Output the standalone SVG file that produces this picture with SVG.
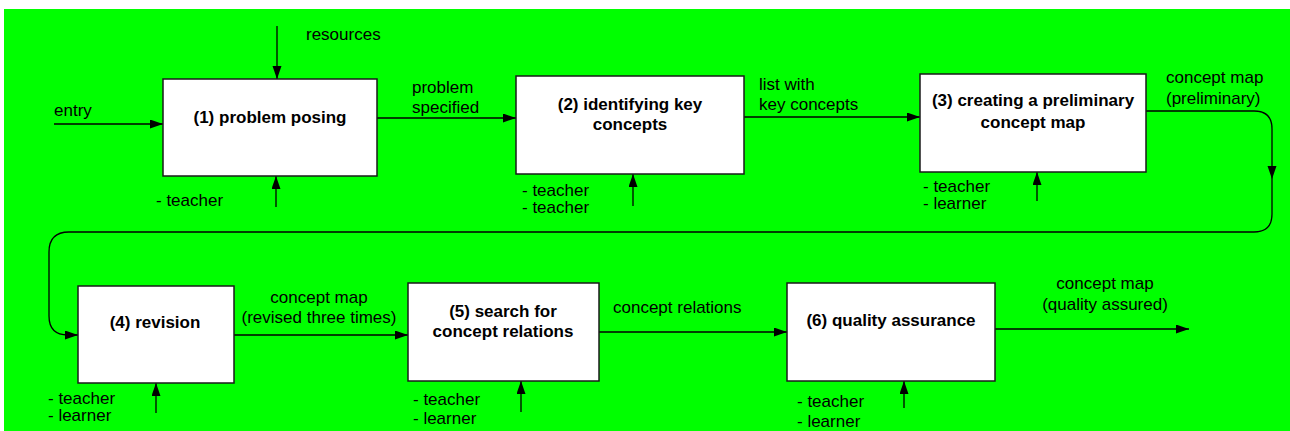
<svg xmlns="http://www.w3.org/2000/svg" width="1290" height="431" viewBox="0 0 1290 431">
<style>
.box{fill:#fff;stroke:#1a1a1a;stroke-width:1.5}
.ln{fill:none;stroke:#000;stroke-width:1.3}
.t{font-family:"Liberation Sans",Arial,sans-serif;font-size:17px;fill:#000}
.b{font-family:"Liberation Sans",Arial,sans-serif;font-size:17px;font-weight:bold;fill:#000;text-anchor:middle}
.m{text-anchor:middle}
</style>
<defs>
<marker id="ah" markerUnits="userSpaceOnUse" markerWidth="14" markerHeight="10" refX="13" refY="4.5" orient="auto">
<path d="M0,0 L13,4.5 L0,9 Z" fill="#000"/>
</marker>
</defs>
<rect x="4" y="9" width="1286" height="422" fill="#00ff00"/>
<g id="connectors">
<line class="ln" x1="277" y1="26" x2="277" y2="79" marker-end="url(#ah)"/>
<line class="ln" x1="54" y1="124" x2="163" y2="124" marker-end="url(#ah)"/>
<line class="ln" x1="276" y1="207" x2="276" y2="176" marker-end="url(#ah)"/>
<line class="ln" x1="377" y1="118" x2="516" y2="118" marker-end="url(#ah)"/>
<line class="ln" x1="633" y1="206" x2="633" y2="174" marker-end="url(#ah)"/>
<line class="ln" x1="744" y1="117" x2="920" y2="117" marker-end="url(#ah)"/>
<line class="ln" x1="1037" y1="201" x2="1037" y2="172" marker-end="url(#ah)"/>
<path class="ln" d="M1146,111 H1254 Q1272,111 1272,129 V214 Q1272,232 1254,232 H69 Q49,232 49,252 V316 Q49,335 68,335 H78" marker-end="url(#ah)"/>
<path d="M1267.5,166 L1276.5,166 L1272,179 Z" fill="#000"/>
<line class="ln" x1="234" y1="335" x2="408" y2="335" marker-end="url(#ah)"/>
<line class="ln" x1="156" y1="413" x2="156" y2="383" marker-end="url(#ah)"/>
<line class="ln" x1="599" y1="332" x2="787" y2="332" marker-end="url(#ah)"/>
<line class="ln" x1="521" y1="412" x2="521" y2="381" marker-end="url(#ah)"/>
<line class="ln" x1="995" y1="329" x2="1189" y2="329" marker-end="url(#ah)"/>
<line class="ln" x1="904" y1="408" x2="904" y2="381" marker-end="url(#ah)"/>
</g>
<g id="labels">
<text class="t" x="306" y="40">resources</text>
<text class="t" x="54" y="116">entry</text>
<text class="t" x="412" y="93">problem</text>
<text class="t" x="412" y="113">specified</text>
<text class="t" x="759" y="90">list with</text>
<text class="t" x="759" y="110">key concepts</text>
<text class="t" x="1166" y="83">concept map</text>
<text class="t" x="1166" y="104">(preliminary)</text>
<text class="t m" x="319" y="303">concept map</text>
<text class="t m" x="319" y="323">(revised three times)</text>
<text class="t" x="613" y="313">concept relations</text>
<text class="t m" x="1105" y="289">concept map</text>
<text class="t m" x="1105" y="310">(quality assured)</text>
</g>
<g id="node1">
<rect class="box" x="163" y="79" width="214" height="97"/>
<text class="b" x="270" y="123">(1) problem posing</text>
<text class="t" x="156" y="206">- teacher</text>
</g>
<g id="node2">
<rect class="box" x="516" y="76" width="228" height="98"/>
<text class="b" x="630" y="110">(2) identifying key</text>
<text class="b" x="630" y="130">concepts</text>
<text class="t" x="522" y="196">- teacher</text>
<text class="t" x="522" y="213">- teacher</text>
</g>
<g id="node3">
<rect class="box" x="920" y="74" width="226" height="98"/>
<text class="b" x="1033" y="106">(3) creating a preliminary</text>
<text class="b" x="1033" y="128">concept map</text>
<text class="t" x="923" y="192">- teacher</text>
<text class="t" x="923" y="209">- learner</text>
</g>
<g id="node4">
<rect class="box" x="78" y="286" width="156" height="97"/>
<text class="b" x="155" y="328">(4) revision</text>
<text class="t" x="48" y="404">- teacher</text>
<text class="t" x="48" y="421">- learner</text>
</g>
<g id="node5">
<rect class="box" x="408" y="283" width="191" height="98"/>
<text class="b" x="503" y="317">(5) search for</text>
<text class="b" x="503" y="337">concept relations</text>
<text class="t" x="413" y="405">- teacher</text>
<text class="t" x="413" y="424">- learner</text>
</g>
<g id="node6">
<rect class="box" x="787" y="283" width="208" height="98"/>
<text class="b" x="891" y="326">(6) quality assurance</text>
<text class="t" x="797" y="407">- teacher</text>
<text class="t" x="797" y="427">- learner</text>
</g>
</svg>
